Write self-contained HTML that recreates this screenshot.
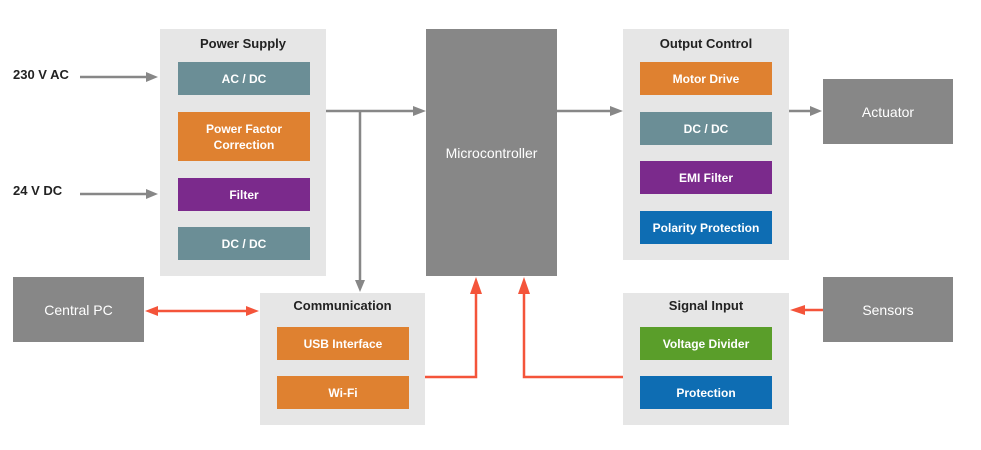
<!DOCTYPE html>
<html><head><style>
body{margin:0;width:981px;height:450px;background:#fff;position:relative;overflow:hidden;font-family:"Liberation Sans",Arial,sans-serif}
.a{position:absolute;box-sizing:border-box}
.g{background:#e6e6e6}
.t{font-weight:bold;font-size:13px;color:#222;text-align:center;width:100%;position:absolute}
.b{display:flex;align-items:center;justify-content:center;color:#fff;font-size:12px;font-weight:bold;text-align:center;line-height:16px}
.n{background:#878787;color:#fff;display:flex;align-items:center;justify-content:center;font-size:14px}
.tl{background:#6b8e96}.or{background:#df8130}.pu{background:#7b2a8c}.bl{background:#0e6db3}.gr{background:#5a9e2a}
.lab{position:absolute;font-weight:bold;font-size:13px;color:#222}
</style></head><body>
<div class="lab" style="left:13px;top:67px">230 V AC</div>
<div class="lab" style="left:13px;top:183px">24 V DC</div>

<div class="a g" style="left:160px;top:29px;width:166px;height:247px"><div class="t" style="top:7px">Power Supply</div></div>
<div class="a b tl" style="left:178px;top:62px;width:132px;height:33px">AC / DC</div>
<div class="a b or" style="left:178px;top:112px;width:132px;height:49px">Power Factor<br>Correction</div>
<div class="a b pu" style="left:178px;top:178px;width:132px;height:33px">Filter</div>
<div class="a b tl" style="left:178px;top:227px;width:132px;height:33px">DC / DC</div>

<div class="a n" style="left:426px;top:29px;width:131px;height:247px">Microcontroller</div>

<div class="a g" style="left:623px;top:29px;width:166px;height:231px"><div class="t" style="top:7px">Output Control</div></div>
<div class="a b or" style="left:640px;top:62px;width:132px;height:33px">Motor Drive</div>
<div class="a b tl" style="left:640px;top:112px;width:132px;height:33px">DC / DC</div>
<div class="a b pu" style="left:640px;top:161px;width:132px;height:33px">EMI Filter</div>
<div class="a b bl" style="left:640px;top:211px;width:132px;height:33px">Polarity Protection</div>

<div class="a n" style="left:823px;top:79px;width:130px;height:65px">Actuator</div>
<div class="a n" style="left:13px;top:277px;width:131px;height:65px">Central PC</div>
<div class="a n" style="left:823px;top:277px;width:130px;height:65px">Sensors</div>

<div class="a g" style="left:260px;top:293px;width:165px;height:132px"><div class="t" style="top:5px">Communication</div></div>
<div class="a b or" style="left:277px;top:327px;width:132px;height:33px">USB Interface</div>
<div class="a b or" style="left:277px;top:376px;width:132px;height:33px">Wi-Fi</div>

<div class="a g" style="left:623px;top:293px;width:166px;height:132px"><div class="t" style="top:5px">Signal Input</div></div>
<div class="a b gr" style="left:640px;top:327px;width:132px;height:33px">Voltage Divider</div>
<div class="a b bl" style="left:640px;top:376px;width:132px;height:33px">Protection</div>

<svg class="a" style="left:0;top:0" width="981" height="450">
<g stroke="#878787" stroke-width="2.5" fill="none">
<line x1="80" y1="77" x2="148" y2="77"/>
<line x1="80" y1="194" x2="148" y2="194"/>
<line x1="326" y1="111" x2="414" y2="111"/>
<line x1="360" y1="111" x2="360" y2="281"/>
<line x1="557" y1="111" x2="611" y2="111"/>
<line x1="789" y1="111" x2="811" y2="111"/>
</g>
<g fill="#878787">
<polygon points="158,77 146,72 146,82"/>
<polygon points="158,194 146,189 146,199"/>
<polygon points="426,111 413,106 413,116"/>
<polygon points="360,292 355,280 365,280"/>
<polygon points="623,111 610,106 610,116"/>
<polygon points="822,111 810,106 810,116"/>
</g>
<g stroke="#f4543a" stroke-width="2.5" fill="none">
<line x1="156" y1="311" x2="247" y2="311"/>
<polyline points="425,377 476,377 476,290"/>
<polyline points="623,377 524,377 524,290"/>
<line x1="823" y1="310" x2="803" y2="310"/>
</g>
<g fill="#f4543a">
<polygon points="145,311 158,306 158,316"/>
<polygon points="259,311 246,306 246,316"/>
<polygon points="476,277 470,294 482,294"/>
<polygon points="524,277 518,294 530,294"/>
<polygon points="790,310 805,305 805,315"/>
</g>
</svg>
</body></html>
